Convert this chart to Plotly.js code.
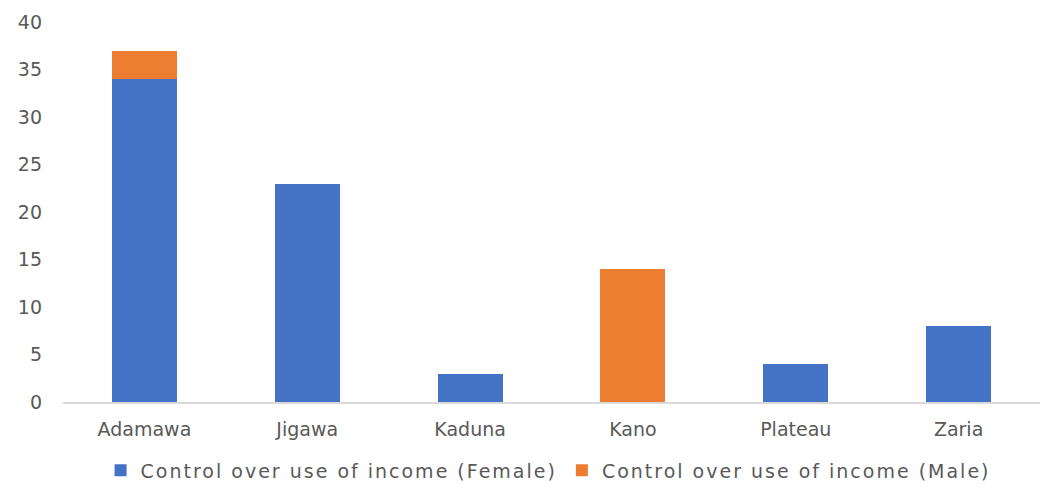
<!DOCTYPE html>
<html>
<head>
<meta charset="utf-8">
<script src="https://cdn.plot.ly/plotly-3.0.1.min.js"></script>
<style>html,body{margin:0;padding:0;background:#fff;}#chart{width:1054px;height:488px;}
.legendtext{letter-spacing:2px;}</style>
</head>
<body>
<div id="chart"></div>
<script>
const categories = ["Adamawa", "Jigawa", "Kaduna", "Kano", "Plateau", "Zaria"];
const femaleValues = [34, 23, 3, 0, 4, 8];
const maleValues = [3, 0, 0, 14, 0, 0];
const yTicks = [0, 5, 10, 15, 20, 25, 30, 35, 40];

const data = [
  {type: "bar", name: "Control over use of income (Female)", x: categories, y: femaleValues,
   marker: {color: "#4472C4"}},
  {type: "bar", name: "Control over use of income (Male)", x: categories, y: maleValues,
   marker: {color: "#ED7D31"}}
];

const layout = {
  width: 1054, height: 488,
  barmode: "stack",
  bargap: 0.6,
  margin: {l: 63, r: 14, t: 22, b: 86},
  paper_bgcolor: "#fff", plot_bgcolor: "#fff",
  font: {family: "DejaVu Sans, sans-serif", size: 19, color: "#595959"},
  showlegend: true,
  legend: {orientation: "h", xref: "container", x: 0.52, xanchor: "center",
           yref: "container", y: 0.075, yanchor: "top",
           font: {size: 19, color: "#595959"}, traceorder: "normal", itemwidth: 30},
  xaxis: {showgrid: false, showline: true, linecolor: "#d9d9d9", linewidth: 1.5,
          ticks: "", ticklabelstandoff: 10, tickfont: {size: 19, color: "#595959"}},
  yaxis: {range: [0, 40], tickvals: yTicks, showgrid: false, zeroline: false, showline: false,
          ticks: "", ticklabelstandoff: 20, tickfont: {size: 19, color: "#595959"}}
};

Plotly.newPlot("chart", data, layout, {displayModeBar: false, staticPlot: true});
</script>
</body>
</html>
